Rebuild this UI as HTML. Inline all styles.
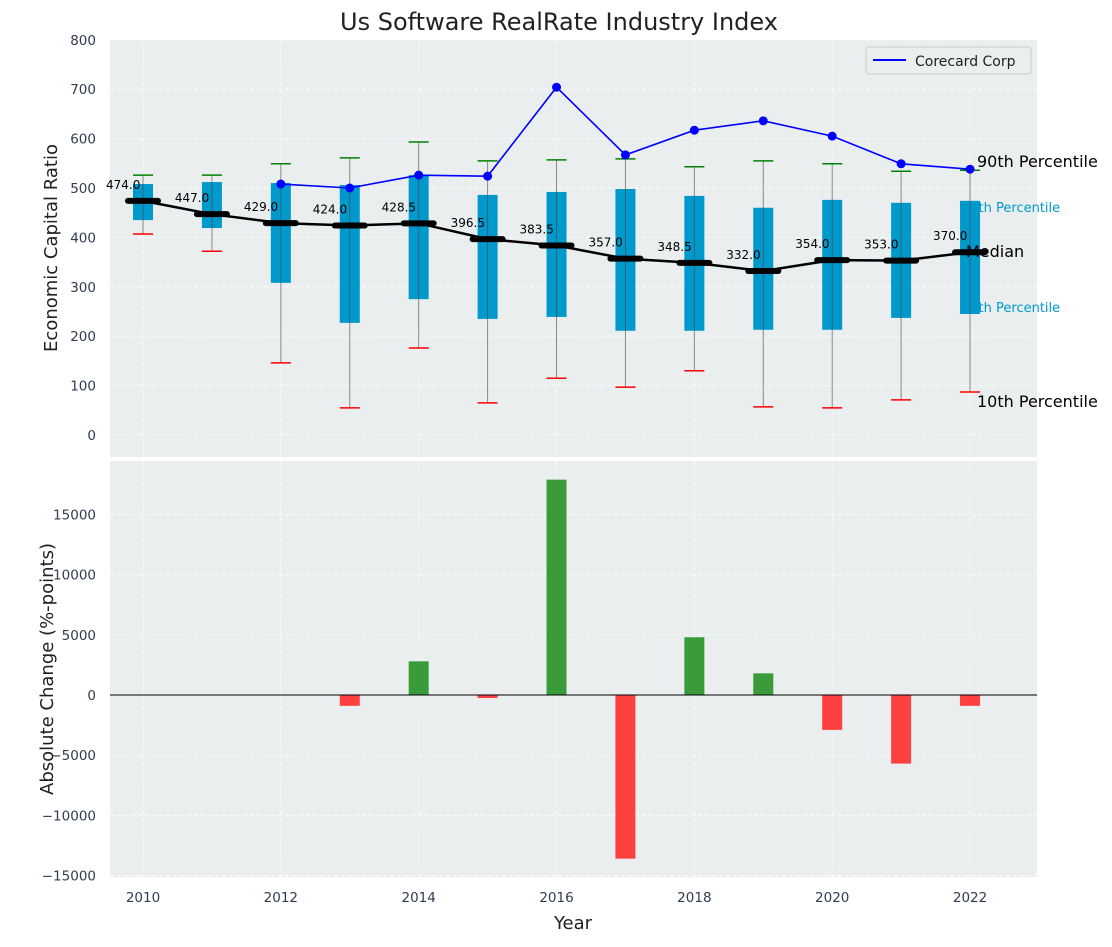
<!DOCTYPE html>
<html><head><meta charset="utf-8"><style>
body{margin:0;background:#fff;font-family:"Liberation Sans","DejaVu Sans",sans-serif;}
svg text{font-family:"DejaVu Sans","Liberation Sans",sans-serif;}
</style></head><body>
<svg id="chart" width="1112" height="942" xmlns="http://www.w3.org/2000/svg">
<rect width="1112" height="942" fill="#fff"/>
<text x="559" y="30" font-size="24" text-anchor="middle" fill="#222">Us Software RealRate Industry Index</text>
<rect x="110" y="40" width="927" height="417" fill="#eaeeef"/>
<rect x="110" y="461" width="927" height="416" fill="#eaeeef"/>
<g id="gtop"></g><g id="gbot"></g>
<text transform="translate(57,248) rotate(-90)" font-size="18" text-anchor="middle" fill="#222">Economic Capital Ratio</text>
<text transform="translate(53,669) rotate(-90)" font-size="18" text-anchor="middle" fill="#222">Absolute Change (%-points)</text>
<text x="573" y="929" font-size="18" text-anchor="middle" fill="#222">Year</text>
<g>
<rect x="866" y="47" width="165" height="27" rx="3" fill="#eaeeef" stroke="#ccc"/>
<line x1="873" y1="60" x2="906" y2="60" stroke="blue" stroke-width="2"/>
<text x="915" y="66" font-size="14" fill="#222">Corecard Corp</text>
</g>
</svg>
<script>
const years=[2010,2011,2012,2013,2014,2015,2016,2017,2018,2019,2020,2021,2022];
const p10=[407,372,146,55,176,65,115,97,130,57,55,71,87];
const p25=[435,419,308,227,275,235,239,211,211,213,213,237,245];
const median=[474,447,429,424,428.5,396.5,383.5,357,348.5,332,354,353,370];
const p75=[508,512,510,506,526,486,492,498,484,460,476,470,474];
const p90=[526,526,549,561,593,555,557,559,543,555,549,534,536];
const coreYears=[2012,2013,2014,2015,2016,2017,2018,2019,2020,2021,2022];
const coreVals=[508,500,526,524,704,567,617,636,605,549,538];
const changes=[0,0,0,-900,2800,-250,17900,-13600,4800,1800,-2900,-5700,-900];
const topTicks=[0,100,200,300,400,500,600,700,800];
const botTicks=[-15000,-10000,-5000,0,5000,10000,15000];
const xTicks=[2010,2012,2014,2016,2018,2020,2022];

const NS="http://www.w3.org/2000/svg";
const X=y=>143+(y-2010)*68.92;
const YT=v=>435-v*0.494;
const YB=v=>695-v*0.01203;
const fmt=v=>v<0?'\u2212'+(-v):String(v);
function mk(p,t,a){const e=document.createElementNS(NS,t);for(const k in a)e.setAttribute(k,a[k]);p.appendChild(e);return e;}
const gTop=document.getElementById('gtop'),gBot=document.getElementById('gbot');
topTicks.forEach(v=>{const y=YT(v);
 const l=mk(gTop,'line',{x1:110,x2:1037,y1:y,y2:y,stroke:'#fff','stroke-dasharray':'4,3','stroke-width':0.8});
 
 
 const t=mk(gTop,'text',{x:96,y:y+5,'font-size':13.5,'text-anchor':'end',fill:'#2e3d50'});t.textContent=fmt(v);
 
 });
botTicks.forEach(v=>{const y=YB(v);
 const l=mk(gBot,'line',{x1:110,x2:1037,y1:y,y2:y,stroke:'#fff','stroke-dasharray':'4,3','stroke-width':0.8});
 
 
 const t=mk(gBot,'text',{x:96,y:y+5,'font-size':13.5,'text-anchor':'end',fill:'#2e3d50'});t.textContent=fmt(v);
 
 });
xTicks.forEach(v=>{const x=X(v);
 [[40,457],[461,877]].forEach(r=>{const l=mk(gTop,'line',{x1:x,x2:x,y1:r[0],y2:r[1],stroke:'#fff','stroke-dasharray':'4,3','stroke-width':0.8});
 
 });
 const t=mk(gBot,'text',{x:x,y:902,'font-size':13.5,'text-anchor':'middle',fill:'#2e3d50'});t.textContent=v;
 
 });
const labBack=[['75th Percentile',962,212,13,'#0099cc'],['25th Percentile',962,312,13,'#0099cc']];
const labFront=[['90th Percentile',977,167,16,'#000'],['Median',966,257,16,'#000'],['10th Percentile',977,407,16,'#000']];
labBack.forEach(a=>{const t=mk(gTop,'text',{x:a[1],y:a[2],'font-size':a[3],fill:a[4]});t.textContent=a[0];
 
 });
years.forEach((yr,i)=>{const x=X(yr);
 const w=mk(gTop,'line',{x1:x,x2:x,y1:YT(p10[i]),y2:YT(p90[i]),stroke:'#888','stroke-width':1});
 
 
 const b=mk(gTop,'rect',{x:x-10,y:YT(p75[i]),width:20,height:YT(p25[i])-YT(p75[i]),fill:'#0099cc'});
 
 
 const ln=mk(gTop,'line',{x1:x,x2:x,y1:YT(p75[i]),y2:YT(p25[i]),stroke:'#456','stroke-width':0.8});
 
 
 const c1=mk(gTop,'line',{x1:x-10,x2:x+10,y1:YT(p90[i]),y2:YT(p90[i]),stroke:'green','stroke-width':1.5});
 
 
 const c2=mk(gTop,'line',{x1:x-10,x2:x+10,y1:YT(p10[i]),y2:YT(p10[i]),stroke:'red','stroke-width':1.5});
 
 
});
labFront.forEach(a=>{const t=mk(gTop,'text',{x:a[1],y:a[2],'font-size':a[3],fill:a[4]});t.textContent=a[0];
 
 });
const mp=mk(gTop,'polyline',{points:years.map((y,i)=>X(y)+','+YT(median[i])).join(' '),fill:'none',stroke:'#000','stroke-width':2.5});


years.forEach((yr,i)=>{const x=X(yr),y=YT(median[i]);
 const m=mk(gTop,'line',{x1:x-15,x2:x+15,y1:y,y2:y,stroke:'#000','stroke-width':6,'stroke-linecap':'round'});
 
 
 const t=mk(gTop,'text',{x:x-37,y:y-12,'font-size':12,fill:'#000'});t.textContent=median[i].toFixed(1);
 
 });
const cl=mk(gTop,'polyline',{points:coreYears.map((y,i)=>X(y)+','+YT(coreVals[i])).join(' '),fill:'none',stroke:'blue','stroke-width':1.6});


coreYears.forEach((yr,i)=>{const c=mk(gTop,'circle',{cx:X(yr),cy:YT(coreVals[i]),r:4.5,fill:'blue'});
 
 });
years.forEach((yr,i)=>{const v=changes[i];if(!v)return;const x=X(yr);
 const y0=YB(Math.max(v,0)),y1=YB(Math.min(v,0));
 const b=mk(gBot,'rect',{x:x-10,y:y0,width:20,height:y1-y0,fill:v>0?'#3a9b3a':'#ff4040'});
 
 });
const z=mk(gBot,'line',{x1:110,x2:1037,y1:YB(0),y2:YB(0),stroke:'#000','stroke-width':1});


</script>
</body></html>
